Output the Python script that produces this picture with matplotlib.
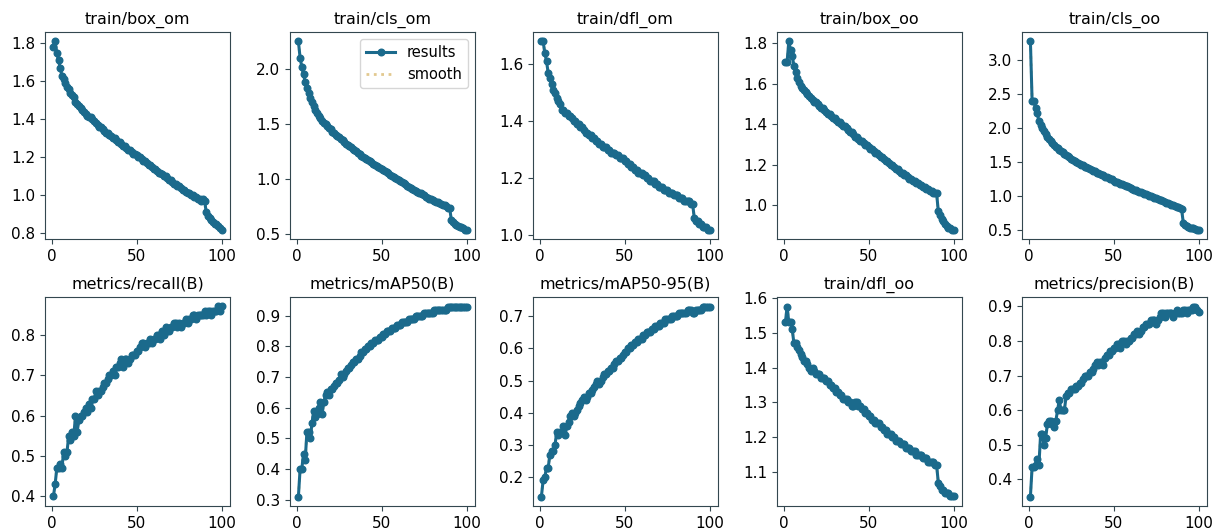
import matplotlib
matplotlib.use("Agg")
import matplotlib.pyplot as plt
from matplotlib.ticker import MultipleLocator

epochs = list(range(1, 101))

titles = ["train/box_om", "train/cls_om", "train/dfl_om", "train/box_oo", "train/cls_oo",
          "metrics/recall(B)", "metrics/mAP50(B)", "metrics/mAP50-95(B)", "train/dfl_oo",
          "metrics/precision(B)"]

y_tick_steps = [0.2, 0.5, 0.2, 0.2, 0.5, 0.1, 0.1, 0.1, 0.1, 0.1]

box_om = [1.78, 1.81, 1.75, 1.71, 1.67, 1.63, 1.61, 1.59, 1.57, 1.56,
          1.54, 1.53, 1.52, 1.49, 1.48, 1.47, 1.46, 1.45, 1.44, 1.43,
          1.42, 1.41, 1.41, 1.40, 1.39, 1.38, 1.37, 1.36, 1.36, 1.35,
          1.34, 1.33, 1.33, 1.32, 1.31, 1.30, 1.30, 1.29, 1.28, 1.28,
          1.27, 1.26, 1.26, 1.25, 1.24, 1.24, 1.23, 1.22, 1.22, 1.21,
          1.20, 1.20, 1.19, 1.18, 1.18, 1.17, 1.16, 1.16, 1.15, 1.14,
          1.14, 1.13, 1.12, 1.12, 1.11, 1.10, 1.10, 1.09, 1.08, 1.08,
          1.07, 1.06, 1.06, 1.05, 1.05, 1.04, 1.03, 1.03, 1.02, 1.01,
          1.01, 1.00, 1.00, 0.99, 0.99, 0.98, 0.98, 0.97, 0.98, 0.97,
          0.91, 0.89, 0.88, 0.87, 0.86, 0.85, 0.85, 0.84, 0.83, 0.82]

cls_om = [2.25, 2.10, 2.02, 1.95, 1.88, 1.83, 1.78, 1.74, 1.70, 1.66,
          1.63, 1.60, 1.57, 1.55, 1.53, 1.51, 1.50, 1.48, 1.46, 1.45,
          1.43, 1.42, 1.40, 1.39, 1.38, 1.36, 1.35, 1.34, 1.32, 1.31,
          1.30, 1.29, 1.27, 1.26, 1.25, 1.24, 1.23, 1.21, 1.20, 1.19,
          1.18, 1.17, 1.16, 1.15, 1.14, 1.13, 1.12, 1.11, 1.10, 1.09,
          1.08, 1.07, 1.06, 1.05, 1.04, 1.03, 1.02, 1.01, 1.00, 0.99,
          0.98, 0.97, 0.96, 0.95, 0.94, 0.93, 0.92, 0.91, 0.90, 0.89,
          0.88, 0.87, 0.87, 0.86, 0.85, 0.84, 0.83, 0.82, 0.82, 0.81,
          0.80, 0.79, 0.79, 0.78, 0.77, 0.76, 0.76, 0.75, 0.74, 0.74,
          0.63, 0.61, 0.59, 0.58, 0.57, 0.56, 0.56, 0.55, 0.54, 0.54]

dfl_om = [1.68, 1.68, 1.64, 1.61, 1.57, 1.55, 1.53, 1.51, 1.50, 1.48,
          1.47, 1.46, 1.44, 1.44, 1.43, 1.43, 1.42, 1.42, 1.41, 1.40,
          1.40, 1.39, 1.39, 1.38, 1.38, 1.37, 1.36, 1.36, 1.35, 1.35,
          1.34, 1.34, 1.33, 1.33, 1.32, 1.32, 1.31, 1.31, 1.31, 1.30,
          1.30, 1.29, 1.29, 1.29, 1.28, 1.28, 1.27, 1.27, 1.27, 1.26,
          1.26, 1.25, 1.25, 1.24, 1.24, 1.23, 1.23, 1.22, 1.22, 1.22,
          1.21, 1.21, 1.20, 1.20, 1.19, 1.19, 1.19, 1.18, 1.18, 1.17,
          1.17, 1.17, 1.16, 1.16, 1.16, 1.15, 1.15, 1.15, 1.14, 1.14,
          1.14, 1.13, 1.13, 1.13, 1.12, 1.12, 1.12, 1.12, 1.11, 1.11,
          1.06, 1.05, 1.05, 1.04, 1.04, 1.03, 1.03, 1.03, 1.02, 1.02]

box_oo = [1.71, 1.71, 1.81, 1.77, 1.74, 1.69, 1.66, 1.63, 1.61, 1.59,
          1.58, 1.57, 1.56, 1.55, 1.54, 1.53, 1.52, 1.51, 1.51, 1.50,
          1.49, 1.48, 1.48, 1.47, 1.46, 1.45, 1.45, 1.44, 1.43, 1.43,
          1.42, 1.41, 1.41, 1.40, 1.39, 1.39, 1.38, 1.37, 1.36, 1.36,
          1.35, 1.34, 1.34, 1.33, 1.32, 1.32, 1.31, 1.30, 1.30, 1.29,
          1.28, 1.28, 1.27, 1.26, 1.26, 1.25, 1.24, 1.24, 1.23, 1.22,
          1.22, 1.21, 1.20, 1.20, 1.19, 1.18, 1.18, 1.17, 1.16, 1.16,
          1.15, 1.15, 1.14, 1.13, 1.13, 1.12, 1.12, 1.11, 1.11, 1.10,
          1.10, 1.09, 1.09, 1.08, 1.08, 1.07, 1.07, 1.06, 1.06, 1.06,
          0.97, 0.95, 0.93, 0.92, 0.91, 0.90, 0.89, 0.89, 0.88, 0.88]

cls_oo = [3.28, 2.40, 2.40, 2.30, 2.22, 2.10, 2.05, 2.00, 1.95, 1.91,
          1.87, 1.84, 1.81, 1.78, 1.75, 1.72, 1.70, 1.68, 1.66, 1.64,
          1.62, 1.60, 1.58, 1.57, 1.55, 1.53, 1.52, 1.50, 1.49, 1.47,
          1.46, 1.45, 1.43, 1.42, 1.41, 1.39, 1.38, 1.37, 1.36, 1.34,
          1.33, 1.32, 1.31, 1.30, 1.28, 1.27, 1.26, 1.25, 1.24, 1.22,
          1.21, 1.20, 1.19, 1.18, 1.17, 1.16, 1.15, 1.14, 1.13, 1.11,
          1.10, 1.09, 1.08, 1.07, 1.06, 1.05, 1.04, 1.03, 1.02, 1.01,
          1.00, 0.99, 0.98, 0.97, 0.96, 0.95, 0.94, 0.93, 0.92, 0.91,
          0.90, 0.89, 0.88, 0.87, 0.86, 0.85, 0.84, 0.83, 0.82, 0.80,
          0.60, 0.57, 0.55, 0.54, 0.53, 0.53, 0.52, 0.51, 0.50, 0.50]

recall = [0.40, 0.43, 0.47, 0.47, 0.48, 0.47, 0.51, 0.50, 0.51, 0.55,
          0.54, 0.56, 0.55, 0.60, 0.56, 0.59, 0.60, 0.60, 0.61, 0.62,
          0.61, 0.63, 0.62, 0.64, 0.64, 0.66, 0.65, 0.66, 0.66, 0.67,
          0.68, 0.68, 0.69, 0.70, 0.70, 0.71, 0.70, 0.72, 0.72, 0.73,
          0.74, 0.72, 0.74, 0.74, 0.73, 0.74, 0.75, 0.75, 0.75, 0.76,
          0.76, 0.77, 0.78, 0.78, 0.77, 0.78, 0.78, 0.79, 0.78, 0.79,
          0.79, 0.80, 0.80, 0.79, 0.81, 0.80, 0.82, 0.81, 0.81, 0.82,
          0.82, 0.83, 0.83, 0.82, 0.83, 0.82, 0.83, 0.83, 0.84, 0.83,
          0.84, 0.84, 0.85, 0.85, 0.84, 0.85, 0.85, 0.85, 0.85, 0.86,
          0.85, 0.86, 0.86, 0.85, 0.86, 0.86, 0.86, 0.87, 0.86, 0.87]

map50 = [0.31, 0.40, 0.40, 0.45, 0.43, 0.52, 0.52, 0.50, 0.55, 0.59,
         0.57, 0.58, 0.60, 0.62, 0.58, 0.62, 0.64, 0.65, 0.64, 0.66,
         0.66, 0.67, 0.68, 0.68, 0.69, 0.71, 0.70, 0.71, 0.72, 0.73,
         0.73, 0.74, 0.75, 0.75, 0.76, 0.76, 0.77, 0.78, 0.78, 0.79,
         0.79, 0.80, 0.80, 0.81, 0.81, 0.82, 0.82, 0.82, 0.83, 0.83,
         0.84, 0.84, 0.85, 0.85, 0.85, 0.86, 0.86, 0.86, 0.87, 0.87,
         0.87, 0.88, 0.88, 0.88, 0.88, 0.89, 0.89, 0.89, 0.89, 0.90,
         0.90, 0.90, 0.90, 0.90, 0.91, 0.91, 0.91, 0.91, 0.91, 0.91,
         0.92, 0.92, 0.92, 0.92, 0.92, 0.92, 0.92, 0.92, 0.93, 0.93,
         0.93, 0.93, 0.93, 0.93, 0.93, 0.93, 0.93, 0.93, 0.93, 0.93]

map50_95 = [0.14, 0.19, 0.20, 0.23, 0.23, 0.27, 0.28, 0.28, 0.30, 0.34,
            0.33, 0.34, 0.34, 0.36, 0.33, 0.36, 0.37, 0.39, 0.40, 0.39,
            0.40, 0.41, 0.42, 0.43, 0.44, 0.45, 0.44, 0.45, 0.46, 0.46,
            0.47, 0.48, 0.49, 0.50, 0.49, 0.50, 0.51, 0.52, 0.52, 0.53,
            0.53, 0.54, 0.54, 0.55, 0.56, 0.56, 0.57, 0.57, 0.58, 0.59,
            0.59, 0.60, 0.60, 0.61, 0.61, 0.62, 0.62, 0.63, 0.63, 0.63,
            0.64, 0.64, 0.65, 0.65, 0.65, 0.66, 0.66, 0.67, 0.67, 0.67,
            0.68, 0.68, 0.68, 0.69, 0.69, 0.69, 0.69, 0.70, 0.70, 0.70,
            0.70, 0.71, 0.71, 0.71, 0.71, 0.71, 0.72, 0.72, 0.72, 0.71,
            0.71, 0.72, 0.72, 0.72, 0.72, 0.73, 0.73, 0.73, 0.73, 0.73]

dfl_oo = [1.53, 1.575, 1.53, 1.53, 1.51, 1.47, 1.47, 1.46, 1.45, 1.44,
          1.43, 1.42, 1.42, 1.41, 1.40, 1.39, 1.40, 1.39, 1.38, 1.38,
          1.38, 1.37, 1.37, 1.37, 1.36, 1.36, 1.35, 1.35, 1.34, 1.34,
          1.33, 1.33, 1.32, 1.32, 1.31, 1.31, 1.31, 1.30, 1.30, 1.29,
          1.29, 1.30, 1.30, 1.29, 1.29, 1.28, 1.28, 1.27, 1.27, 1.26,
          1.26, 1.25, 1.25, 1.24, 1.24, 1.24, 1.23, 1.23, 1.22, 1.22,
          1.21, 1.21, 1.21, 1.20, 1.20, 1.19, 1.19, 1.19, 1.18, 1.18,
          1.18, 1.17, 1.17, 1.17, 1.16, 1.16, 1.16, 1.15, 1.15, 1.15,
          1.15, 1.14, 1.14, 1.14, 1.13, 1.13, 1.13, 1.13, 1.12, 1.12,
          1.07, 1.06, 1.05, 1.05, 1.04, 1.04, 1.04, 1.03, 1.03, 1.03]

precision = [0.35, 0.435, 0.435, 0.44, 0.46, 0.44, 0.53, 0.53, 0.50, 0.52,
             0.56, 0.57, 0.57, 0.56, 0.55, 0.57, 0.60, 0.63, 0.60, 0.60,
             0.60, 0.64, 0.65, 0.65, 0.66, 0.66, 0.66, 0.67, 0.67, 0.68,
             0.68, 0.69, 0.70, 0.70, 0.70, 0.71, 0.71, 0.72, 0.73, 0.74,
             0.73, 0.74, 0.74, 0.73, 0.75, 0.76, 0.76, 0.77, 0.77, 0.78,
             0.78, 0.79, 0.79, 0.78, 0.80, 0.80, 0.79, 0.80, 0.80, 0.81,
             0.81, 0.82, 0.82, 0.83, 0.82, 0.83, 0.84, 0.84, 0.85, 0.85,
             0.85, 0.86, 0.86, 0.86, 0.85, 0.86, 0.87, 0.88, 0.88, 0.87,
             0.88, 0.88, 0.88, 0.88, 0.87, 0.88, 0.89, 0.88, 0.88, 0.88,
             0.89, 0.89, 0.88, 0.89, 0.89, 0.89, 0.90, 0.90, 0.89, 0.885]

series = [box_om, cls_om, dfl_om, box_oo, cls_oo,
          recall, map50, map50_95, dfl_oo, precision]

LINE = "#1b6a8c"
SMOOTH = "#e2c98f"
SPINE = "#33474f"

fig = plt.figure(figsize=(12.17, 5.29), dpi=100)
lefts = [45, 290, 533, 777, 1022]
W, H = 1217.0, 529.0
rows = [(32, 239), (297, 506)]

for i, (title, ys, step) in enumerate(zip(titles, series, y_tick_steps)):
    r, c = divmod(i, 5)
    top, bot = rows[r]
    ax = fig.add_axes([lefts[c] / W, 1 - bot / H, 185 / W, (bot - top) / H])
    ax.plot(epochs, ys, ':', color=SMOOTH, linewidth=2, label="smooth", zorder=1)
    ax.plot(epochs, ys, marker='.', color=LINE, linewidth=2.2, markersize=9.5,
            label="results", zorder=2)
    ax.set_title(title, fontsize=11.5, pad=6)
    ax.tick_params(labelsize=11, color=SPINE, length=3.5)
    ax.set_xticks([0, 50, 100])
    ax.yaxis.set_major_locator(MultipleLocator(step))
    for s in ax.spines.values():
        s.set_color(SPINE)
    if i == 1:
        h, l = ax.get_legend_handles_labels()
        ax.legend([h[1], h[0]], [l[1], l[0]], loc="upper right", fontsize=10.5)

fig.savefig("out.png", dpi=100)
